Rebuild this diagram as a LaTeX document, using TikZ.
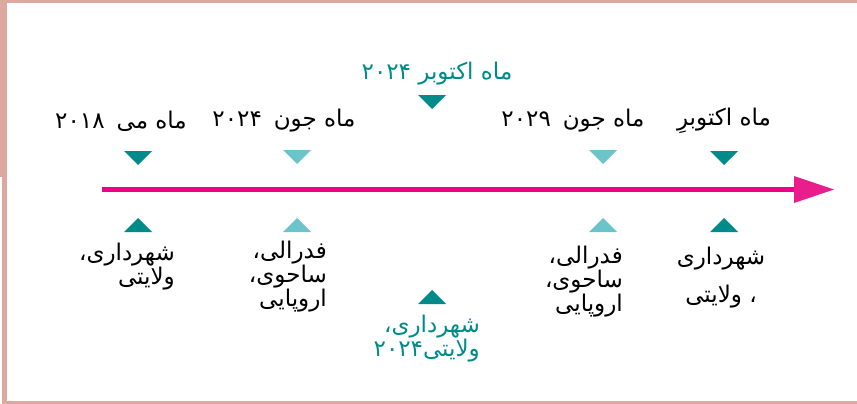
\documentclass[tikz,border=0pt]{standalone}
\usepackage{fontspec}
\TeXXeTstate=1
\newfontfamily\arabicfont[Script=Arabic]{DejaVu Sans}
\definecolor{tealD}{HTML}{008B8B}
\definecolor{tealL}{HTML}{6CC4CB}
\definecolor{axisc}{HTML}{EC008C}
\definecolor{arrowc}{HTML}{E91E8C}
\definecolor{framec}{HTML}{DDA8A0}
\tikzset{
  lbl/.style={font=\arabicfont\fontsize{23}{22}\selectfont, inner sep=0pt, align=right, text=black},
  lblwide/.style={lbl, font=\arabicfont\fontsize{23}{38}\selectfont, align=center},
  pics/downtri/.style={code={\fill[#1] (-14,-7) -- (14,-7) -- (0,7) -- cycle;}},
  pics/uptri/.style={code={\fill[#1] (-14,7) -- (14,7) -- (0,-7) -- cycle;}},
}
\begin{document}
\begin{tikzpicture}[x=1pt,y=-1pt]
\useasboundingbox (0,0) rectangle (857,404);
% frame
\fill[framec] (0,0) rectangle (857,3);
\fill[framec] (0,0) rectangle (7,177);
\fill[framec] (2,177) rectangle (7,404);
\fill[framec] (2,401) rectangle (857,404);
% axis
\coordinate (axstart) at (102,189.5);
\coordinate (axend) at (805,189.5);
\draw[axisc, line width=5pt] (axstart) -- (axend);
\fill[arrowc] (794,176) -- (834,189.5) -- (794,203) -- cycle;
% triangles
\pic at (138,158) {downtri=tealD};
\pic at (297,157) {downtri=tealL};
\pic at (432,102) {downtri=tealD};
\pic at (603,157) {downtri=tealL};
\pic at (724,158) {downtri=tealD};
\pic at (138,225) {uptri=tealD};
\pic at (297,225) {uptri=tealL};
\pic at (432,297) {uptri=tealD};
\pic at (603,225) {uptri=tealL};
\pic at (724,225) {uptri=tealD};
% top labels
\node[lbl] (t1) at (121,121) {\beginR ماه می\hspace{12pt}۲۰۱۸\endR};
\node[lbl] (t2) at (284,121) {\beginR ماه جون\hspace{12pt}۲۰۲۴\endR};
\node[lbl] (t3) at (573,121) {\beginR ماه جون\hspace{12pt}۲۰۲۹\endR};
\node[lbl] (t4) at (724,121) {\beginR ماه اکتوبرِ\endR};
\node[lbl, text=tealD] (t5) at (437,74) {\beginR ماه اکتوبر ۲۰۲۴\endR};
% bottom labels
\node[lbl, anchor=north east] (b1) at (175,243) {\beginR شهرداری،\endR\\\beginR ولایتی\endR};
\node[lbl, anchor=north east] (b2) at (327,241) {\beginR فدرالی،\endR\\\beginR ساحوی،\endR\\\beginR اروپایی\endR};
\node[lbl, anchor=north east] (b3) at (623,246) {\beginR فدرالی،\endR\\\beginR ساحوی،\endR\\\beginR اروپایی\endR};
\node[lblwide, anchor=north] (b4) at (721,247) {\beginR شهرداری\endR\\\beginR ، ولایتی\endR};
\node[lbl, anchor=north east, text=tealD, font=\arabicfont\fontsize{23}{20}\selectfont] (b5) at (480,315) {\beginR شهرداری،\endR\\\beginR ولایتی۲۰۲۴\endR};
\end{tikzpicture}
\end{document}
